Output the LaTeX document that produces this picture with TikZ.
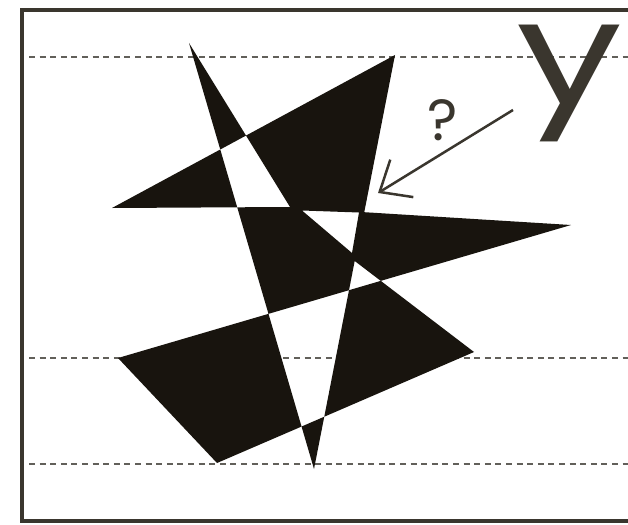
\documentclass[tikz,border=0pt]{standalone}
\usepackage{fontspec}
\newfontfamily\glyphfont{Poppins}
\newfontfamily\wideglyph[FakeStretch=1.3]{Poppins}
\usetikzlibrary{arrows.meta}
\definecolor{ink}{RGB}{24,20,14}
\definecolor{rulegray}{RGB}{58,54,46}
\definecolor{guidegray}{RGB}{98,96,90}

\begin{document}
\begin{tikzpicture}[x=1pt, y=-1pt,
    guide/.style={draw=guidegray, line width=2pt, dash pattern=on 6pt off 4.6pt},
    piece/.style={fill=ink, even odd rule},
    letter/.style={inner sep=0pt, anchor=base, text=rulegray}]
    \useasboundingbox (0,0) rectangle (628,524);
    \fill[white] (0,0) rectangle (628,524);
    \draw[rulegray, line width=3.5pt] (628,10) -- (22,10) -- (22,521) -- (628,521);
    \foreach \h in {57.5,358,463.5}
        \draw[guide] (29,\h) -- (628,\h);
    % outer tips
    \coordinate (a) at (189,43);
    \coordinate (b) at (395,55);
    \coordinate (c) at (112,208);
    \coordinate (d) at (571,225);
    \coordinate (e) at (118,358);
    \coordinate (f) at (217,463);
    \coordinate (g) at (474,352);
    \coordinate (h) at (314,469);
    \coordinate (u2) at (290,207);
    \coordinate (rt) at (300,208.2);
    \coordinate (qa) at (300,261);
    \coordinate (qb) at (400,261);
    % crossings
    \coordinate (s1) at (intersection of a--u2 and c--b);
    \coordinate (s2) at (intersection of a--h and c--b);
    \coordinate (u1) at (intersection of a--h and c--u2);
    \coordinate (r1) at (intersection of b--h and d--rt);
    \coordinate (q) at (intersection of b--h and qa--qb);
    \coordinate (em) at (intersection of q--g and d--e);
    \coordinate (l2m) at (intersection of b--h and d--e);
    \coordinate (l1m) at (intersection of a--h and d--e);
    \coordinate (l1l4) at (intersection of a--h and g--f);
    \coordinate (l2l4) at (intersection of b--h and g--f);
    % white hole in the middle
    \coordinate (c1) at (302,210.5);
    \coordinate (c2) at (359,212.5);
    \coordinate (c3) at (352,253);
    \fill[piece] (a) -- (s1) -- (s2) -- cycle;
    \fill[piece] (c) -- (s2) -- (u1) -- cycle;
    \fill[piece] (s1) -- (b) -- (r1) -- (d) -- (em) -- (q) -- (l2m) -- (l1m) -- (u1) -- (u2) -- cycle
        (c1) -- (c2) -- (c3) -- cycle;
    \fill[piece] (e) -- (l1m) -- (l1l4) -- (f) -- cycle;
    \fill[piece] (l1l4) -- (l2l4) -- (h) -- cycle;
    \fill[piece] (em) -- (g) -- (l2l4) -- (l2m) -- cycle;
    % label and arrow
    \node (y) [letter, font=\wideglyph\fontsize{145}{145}\selectfont] at (570,105) {y};
    \node (ask) [letter, font=\glyphfont\fontsize{58}{58}\selectfont] at (443,140) {?};
    \coordinate (tail) at (513,110);
    \coordinate (tip) at (378,193);
    \draw[rulegray, line width=2.5pt, -{Straight Barb[length=26pt, width=44pt, line width=2.5pt]}] (tail) -- (tip);
\end{tikzpicture}
\end{document}
